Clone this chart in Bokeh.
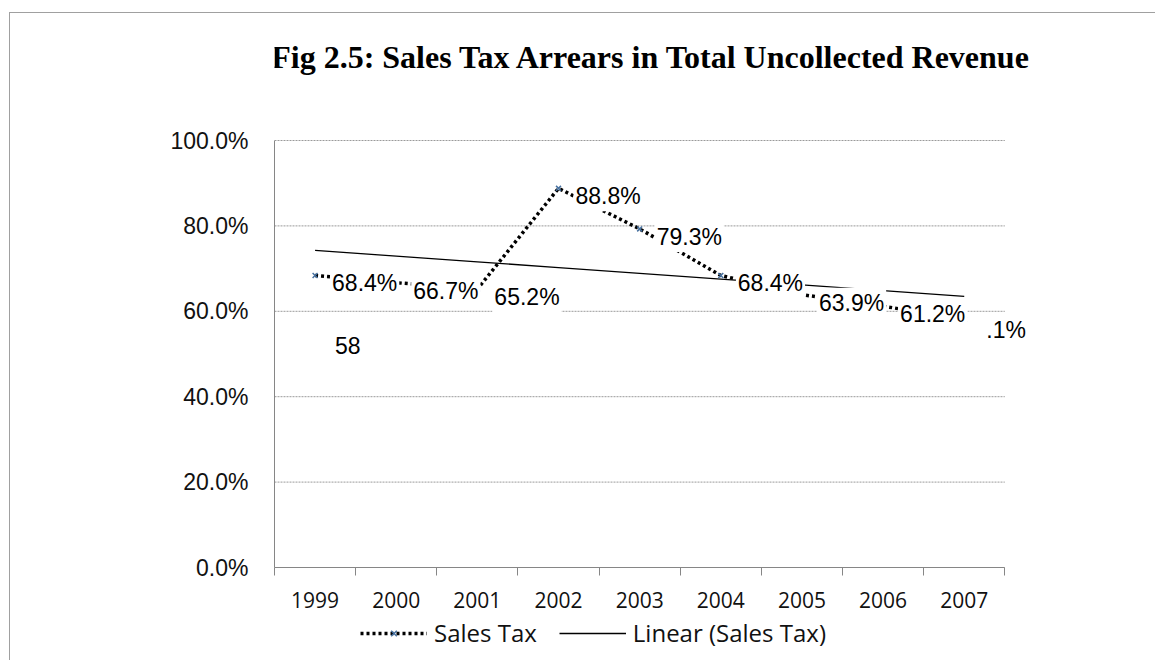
import numpy as np
from bokeh.plotting import figure
from bokeh.layouts import column
from bokeh.models import (ColumnDataSource, FixedTicker, Legend, LegendItem, Range1d, Label)
from bokeh.core.properties import value
from bokeh.embed import file_html
from bokeh.resources import INLINE

# ---------------- data ----------------
years = ["1999", "2000", "2001", "2002", "2003", "2004", "2005", "2006", "2007"]
sales_tax = [68.4, 66.7, 65.2, 88.8, 79.3, 68.4, 63.9, 61.2, 58.1]
y_ticks = [0, 20, 40, 60, 80, 100]
y_tick_labels = ["0.0%", "20.0%", "40.0%", "60.0%", "80.0%", "100.0%"]
title_text = "Fig 2.5: Sales Tax Arrears  in Total Uncollected Revenue"
series_name = "Sales Tax"
trend_name = "Linear (Sales Tax)"

# ---------------- derived ----------------
n = len(years)
idx = np.arange(n)
xpos = idx + 0.5
slope, intercept = np.polyfit(idx, sales_tax, 1)
trend = intercept + slope * idx

labels = [f"{v:.1f}%" for v in sales_tax]
last_full = labels[-1]
last_head, last_tail = last_full.split(".")[0], "." + last_full.split(".")[1]

LINE_KW = dict(line_color="black", line_width=3.5, line_dash="3 3")
MARK_KW = dict(marker="x", size=7, line_color="#46709f", line_width=1.5)
TREND_KW = dict(line_color="black", line_width=1.3)

# frame spans the title area too (axis line bounded to 0..100)
FRAME_H = 554
PLOT_H = 427
y_top = 100 * FRAME_H / PLOT_H

p = figure(width=1145, height=602, x_range=Range1d(0, n + 0.6), y_range=Range1d(0, y_top),
           output_backend="svg", toolbar_location=None,
           min_border_left=264, min_border_right=102, min_border_top=0, min_border_bottom=48)
p.outline_line_color = None
p.background_fill_color = "white"
p.border_fill_color = "white"

# grid: horizontal dotted lines only across the category span
p.grid.visible = False
p.segment(x0=0, x1=n, y0=y_ticks, y1=y_ticks, line_color="#9a9a9a",
          line_dash="2 1", line_width=1)

# x axis (ticks between categories, labels centred)
p.xaxis.bounds = (0, n)
p.xaxis.ticker = FixedTicker(ticks=list(xpos), minor_ticks=list(range(n + 1)))
p.xaxis.major_label_overrides = {float(xv): yr for xv, yr in zip(xpos, years)}
p.xaxis.major_tick_line_color = None
p.xaxis.major_tick_out = 0
p.xaxis.major_tick_in = 0
p.xaxis.minor_tick_out = 8
p.xaxis.minor_tick_in = 0
p.xaxis.minor_tick_line_color = "#868686"
p.xaxis.axis_line_color = "#868686"
p.xaxis.major_label_text_font = "Open Sans"
p.xaxis.major_label_text_font_size = "21px"
p.xaxis.major_label_text_color = "#111111"
p.xaxis.major_label_standoff = 16

# y axis
p.yaxis.bounds = (0, 100)
p.yaxis.ticker = FixedTicker(ticks=y_ticks)
p.yaxis.major_label_overrides = {t: l for t, l in zip(y_ticks, y_tick_labels)}
p.yaxis.major_tick_line_color = None
p.yaxis.major_tick_out = 0
p.yaxis.major_tick_in = 0
p.yaxis.minor_tick_line_color = None
p.yaxis.axis_line_color = "#868686"
p.yaxis.major_label_text_font = "Liberation Sans"
p.yaxis.major_label_text_font_size = "23px"
p.yaxis.major_label_text_color = "#111111"
p.yaxis.major_label_standoff = 26

# series
src = ColumnDataSource(dict(x=xpos, y=sales_tax))
p.line(xpos, trend, **TREND_KW)
p.line("x", "y", source=src, **LINE_KW)
p.scatter("x", "y", source=src, **MARK_KW)

# data labels (the 2007 label is split in the reference)
LAB_KW = dict(text_font=value("Liberation Sans"), text_font_size="23px", text_color="black",
              text_align="left", text_baseline="middle")
lab_src = ColumnDataSource(dict(x=xpos[:-1], y=sales_tax[:-1], lab=labels[:-1]))
p.text("x", "y", text="lab", source=lab_src, x_offset=15, y_offset=8,
       background_fill_color="white", padding=2, **LAB_KW)
p.text([xpos[-1]], [sales_tax[-1]], text=[last_tail], x_offset=22, y_offset=11, **LAB_KW)
p.text([xpos[0]], [sales_tax[-1]], text=[last_head], x_offset=20, y_offset=26, **LAB_KW)

# title
p.add_layout(Label(x=381, y=511, x_units="screen", y_units="screen", text=title_text,
                   text_font="Liberation Serif", text_font_style="bold", text_font_size="32px",
                   text_align="center", text_baseline="middle", text_color="black"))

# legend strip (separate small figure under the chart; its series sit outside its view)
lg = figure(width=1145, height=45, output_backend="svg", toolbar_location=None,
            x_axis_location=None, y_axis_location=None,
            x_range=Range1d(-100, -99), y_range=Range1d(-100, -99),
            min_border_left=0, min_border_right=0, min_border_top=0, min_border_bottom=0)
lg.outline_line_color = None
lg.grid.visible = False
lg.background_fill_color = "white"
lg.border_fill_color = "white"
g_line = lg.line(xpos, sales_tax, **LINE_KW)
g_mark = lg.scatter(xpos, sales_tax, **MARK_KW)
g_trend = lg.line(xpos, trend, **TREND_KW)
legend = Legend(items=[LegendItem(label=series_name, renderers=[g_line, g_mark]),
                       LegendItem(label=trend_name, renderers=[g_trend])],
                orientation="horizontal", location=(86, 11), padding=0, margin=0,
                spacing=22, glyph_width=67, glyph_height=20, label_standoff=7,
                label_text_font="Open Sans", label_text_font_size="24px",
                label_text_color="#111111",
                border_line_color=None, background_fill_alpha=0)
lg.add_layout(legend, "center")

layout = column(p, lg, spacing=0, margin=(12, 0, 0, 9),
                styles={"border-left": "1px solid #a0a0a0", "border-top": "1px solid #a0a0a0"})

open("out.html", "w").write(file_html(layout, INLINE))
